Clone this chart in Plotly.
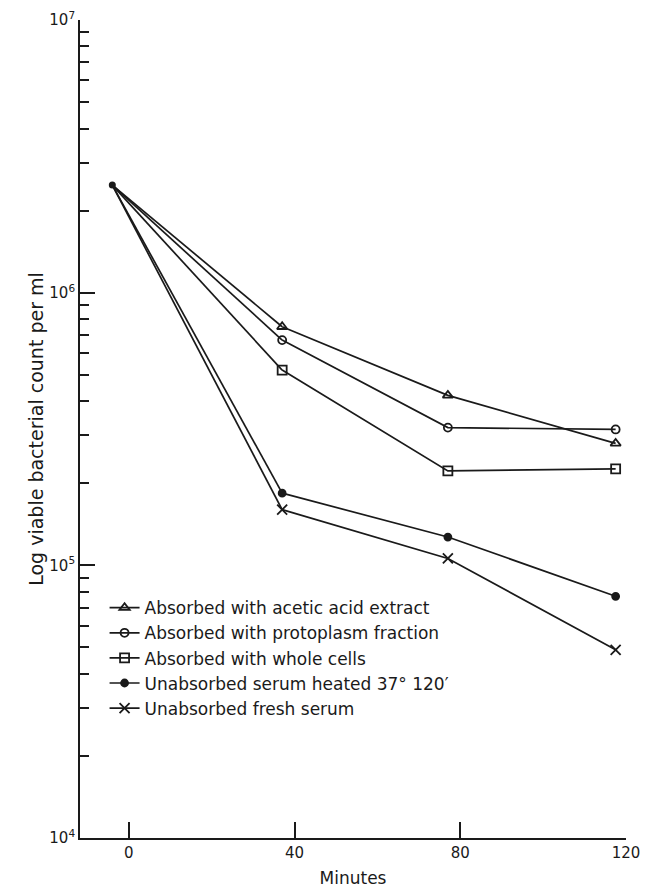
import plotly.graph_objects as go

# ---- data ----
minutes = [-4, 37, 77, 117.5]
acetic = [2.48e6, 7.5e5, 4.2e5, 2.8e5]
protoplasm = [2.48e6, 6.7e5, 3.2e5, 3.15e5]
whole_cells = [2.48e6, 5.2e5, 2.22e5, 2.26e5]
heated = [2.48e6, 1.84e5, 1.27e5, 7.7e4]
fresh = [2.48e6, 1.6e5, 1.06e5, 4.9e4]

series_names = [
    "Absorbed with acetic acid extract",
    "Absorbed with protoplasm fraction",
    "Absorbed with whole cells",
    "Unabsorbed serum heated 37° 120′",
    "Unabsorbed fresh serum",
]
series_values = [acetic, protoplasm, whole_cells, heated, fresh]
symbols = ["triangle-up-open", "circle-open", "square-open", "circle", "x-thin-open"]
sizes = [9, 8, 9, 7, 10]

x_ticks = [0, 40, 80, 120]
y_major = [1e4, 1e5, 1e6, 1e7]
y_major_text = ["10<sup>4</sup>", "10<sup>5</sup>", "10<sup>6</sup>", "10<sup>7</sup>"]
y_minor = [m * 10 ** e for e in (4, 5, 6) for m in range(2, 10)]

INK = "#1a1a1a"
FONT = "DejaVu Sans, Liberation Sans, sans-serif"

fig = go.Figure()

for name, vals, sym, sz in zip(series_names, series_values, symbols, sizes):
    # first segment from the common start point
    fig.add_trace(go.Scatter(
        x=minutes[:2], y=vals[:2], mode="lines",
        line=dict(color=INK, width=1.7), showlegend=False, hoverinfo="skip"))
    fig.add_trace(go.Scatter(
        x=minutes[1:], y=vals[1:], mode="lines+markers", name=name,
        line=dict(color=INK, width=1.7),
        marker=dict(symbol=sym, size=sz, color=INK,
                    line=dict(color=INK, width=1.8))))

# common starting point
fig.add_trace(go.Scatter(
    x=[minutes[0]], y=[acetic[0]], mode="markers", showlegend=False,
    marker=dict(symbol="circle", size=7, color=INK)))

fig.update_layout(
    width=654, height=889,
    margin=dict(l=80, r=28, t=20, b=51),
    paper_bgcolor="white", plot_bgcolor="white",
    font=dict(family=FONT, color=INK, size=15),
    legend=dict(
        x=0.045, y=0.303, xanchor="left", yanchor="top",
        bgcolor="rgba(0,0,0,0)", font=dict(size=17, family=FONT, color=INK),
        itemwidth=30, tracegroupgap=0,
    ),
)

fig.update_xaxes(
    range=[-11.8, 120], tickmode="array", tickvals=x_ticks,
    ticktext=[str(v) for v in x_ticks],
    showline=True, linecolor=INK, linewidth=1.8,
    ticks="inside", ticklen=16, tickwidth=1.6, tickcolor=INK,
    showgrid=False, zeroline=False, automargin=False,
    tickfont=dict(size=15),
    title=dict(text="Minutes", font=dict(size=17), standoff=11),
)

fig.update_yaxes(
    type="log", range=[4, 7], tickmode="array", tickvals=y_major,
    ticktext=y_major_text,
    showline=True, linecolor=INK, linewidth=1.8,
    ticks="inside", ticklen=15, tickwidth=1.6, tickcolor=INK,
    minor=dict(ticks="inside", ticklen=9, tickwidth=1.5, tickcolor=INK,
               tickmode="array", tickvals=y_minor, showgrid=False),
    showgrid=False, zeroline=False, automargin=False,
    tickfont=dict(size=15),
    title=dict(text="Log viable bacterial count per ml", font=dict(size=19), standoff=1),
)

fig.write_html(
    "out.html",
    config=dict(displayModeBar=False),
    post_script="document.body.style.margin='0';document.body.style.overflow='hidden';",
)
